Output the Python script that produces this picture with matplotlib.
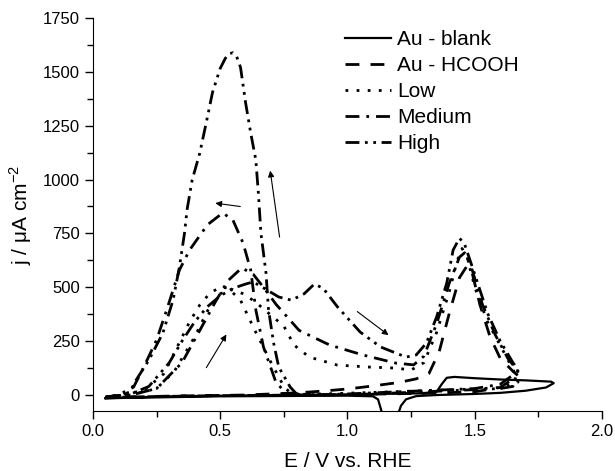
import numpy as np
import matplotlib
matplotlib.use("Agg")
import matplotlib.pyplot as plt
from matplotlib.ticker import MultipleLocator

plt.rcParams['font.family'] = ['Liberation Sans', 'DejaVu Sans']

# Au - blank (solid): forward then reverse
blank_E = [0.05, 0.3, 0.6, 1.0, 1.3, 1.35, 1.37, 1.39, 1.42, 1.5, 1.6, 1.7, 1.8, 1.81,
           1.78, 1.7, 1.6, 1.5, 1.35, 1.27, 1.23, 1.21, 1.19, 1.17, 1.15, 1.135, 1.12, 1.1,
           1.0, 0.5, 0.05]
blank_j = [-15, -6, -2, 3, 8, 15, 50, 80, 84, 78, 72, 68, 62, 55,
           35, 20, 10, 5, 0, -5, -20, -50, -120, -160, -150, -80, -20, -6,
           -3, -6, -15]

# Au - HCOOH (dashed)
hcooh_E = [0.05, 0.3, 0.6, 0.8, 0.9, 1.0, 1.1, 1.2, 1.27, 1.32, 1.36, 1.4, 1.44, 1.47,
           1.49, 1.52, 1.56, 1.6, 1.65, 1.67, 1.6, 1.5, 1.3, 1.0, 0.6, 0.3, 0.05]
hcooh_j = [-12, -5, 0, 10, 18, 28, 42, 58, 75, 100, 200, 380, 545, 600,
           565, 420, 270, 170, 110, 90, 35, 15, 8, 2, -2, -6, -12]

# Low (dotted)
low_E = [0.05, 0.15, 0.25, 0.32, 0.4, 0.45, 0.5, 0.55, 0.6, 0.65, 0.7, 0.75, 0.79, 0.85,
         0.96, 1.08, 1.19, 1.25, 1.3, 1.35, 1.4, 1.43, 1.45, 1.47, 1.5, 1.55, 1.6, 1.65, 1.67,
         1.6, 1.5, 1.3, 1.1, 0.9, 0.78, 0.75, 0.7, 0.63, 0.58, 0.53, 0.5, 0.46, 0.42, 0.38,
         0.33, 0.28, 0.2, 0.1, 0.05]
low_j = [-10, 0, 30, 110, 270, 390, 470, 490, 465, 420, 370, 320, 232, 176,
         139, 130, 125, 116, 150, 290, 480, 620, 680, 640, 500, 340, 230, 120, 60,
         35, 28, 20, 12, 5, 5, 40, 150, 315, 440, 497, 500, 473, 418, 340,
         220, 100, 20, 0, -10]

# Medium (dash-dot)
med_E = [0.05, 0.15, 0.25, 0.35, 0.42, 0.48, 0.53, 0.585, 0.63, 0.67, 0.72, 0.81, 0.93,
         1.06, 1.19, 1.26, 1.3, 1.35, 1.4, 1.44, 1.46, 1.49, 1.53, 1.58, 1.63, 1.67,
         1.6, 1.5, 1.2, 1.0, 0.85, 0.78, 0.76, 0.72, 0.67, 0.64, 0.62, 0.59, 0.55, 0.51,
         0.45, 0.38, 0.34, 0.29, 0.25, 0.2, 0.16, 0.1, 0.05]
med_j = [-10, 0, 30, 150, 300, 430, 530, 590, 560, 500, 420, 300, 232,
         186, 148, 140, 180, 330, 520, 640, 660, 580, 420, 280, 170, 110,
         50, 30, 15, 5, 0, 3, 10, 56, 223, 395, 580, 705, 812, 845,
         790, 673, 580, 395, 255, 130, 37, 0, -10]

# High (dash-dot-dot)
high_E = [0.05, 0.15, 0.22, 0.3, 0.35, 0.4, 0.45, 0.5, 0.55, 0.6, 0.63, 0.68, 0.73, 0.78,
          0.83, 0.87, 0.905, 0.96, 1.05, 1.13, 1.23, 1.27, 1.31, 1.35, 1.39, 1.415, 1.44,
          1.46, 1.5, 1.55, 1.6, 1.65, 1.67, 1.65, 1.6, 1.5, 1.3, 1.1, 0.9, 0.8, 0.775,
          0.73, 0.71, 0.69, 0.68, 0.66, 0.65, 0.64, 0.62, 0.6, 0.58, 0.565, 0.55, 0.535,
          0.52, 0.5, 0.47, 0.45, 0.42, 0.39, 0.37, 0.36, 0.34, 0.315, 0.275, 0.22, 0.17,
          0.145, 0.1, 0.05]
high_j = [-10, 5, 40, 150, 250, 340, 410, 460, 495, 515, 525, 490, 455, 440,
          470, 515, 495, 410, 292, 223, 176, 186, 241, 362, 520, 673, 728,
          700, 560, 380, 250, 150, 120, 40, 30, 25, 15, 5, 0, 5, 37,
          130, 241, 395, 566, 752, 938, 1091, 1216, 1355, 1520, 1570, 1588, 1584,
          1562, 1515, 1405, 1290, 1123, 998, 860, 752, 594, 441, 288, 162, 70,
          14, -5, -10]

# arrows: (tail E, tail j, head E, head j)
arrows = [(0.59, 873, 0.47, 892),
          (0.735, 720, 0.695, 1054),
          (0.44, 116, 0.53, 292),
          (1.03, 395, 1.17, 270)]

fig = plt.figure(figsize=(6.15, 4.71), dpi=100)
ax = fig.add_axes([0.151, 0.127, 0.828, 0.835])

ax.plot(blank_E, blank_j, color='k', lw=1.6, ls='-', label='Au - blank')
ax.plot(hcooh_E, hcooh_j, color='k', lw=2.0, ls=(0, (5, 4)), label='Au - HCOOH')
ax.plot(low_E, low_j, color='k', lw=2.0, ls=(0, (1, 3)), label='Low')
ax.plot(med_E, med_j, color='k', lw=2.0, ls=(0, (5, 2.5, 1, 2.5)), label='Medium')
ax.plot(high_E, high_j, color='k', lw=2.0, ls=(0, (5, 2, 1, 2, 1, 2)), label='High')

for x0, y0, x1, y1 in arrows:
    ax.annotate('', xy=(x1, y1), xytext=(x0, y0),
                arrowprops=dict(arrowstyle='-|>', color='k', lw=0.8, mutation_scale=9))

ax.set_xlim(0, 2.0)
ax.set_ylim(-75, 1750)
ax.xaxis.set_major_locator(MultipleLocator(0.5))
ax.xaxis.set_minor_locator(MultipleLocator(0.25))
ax.yaxis.set_major_locator(MultipleLocator(250))
ax.yaxis.set_minor_locator(MultipleLocator(125))
ax.xaxis.set_major_formatter(plt.FuncFormatter(lambda v, p: f"{v:.1f}"))
for s in ['top', 'right']:
    ax.spines[s].set_visible(False)
ax.tick_params(which='major', length=6, width=1, labelsize=12, direction='out')
ax.tick_params(which='minor', length=4, width=1, direction='out')

ax.set_xlabel('E / V vs. RHE', fontsize=15, labelpad=9)
ax.set_ylabel(r'j / $\mathregular{\mu}$A cm$^{\mathregular{-2}}$', fontsize=15, labelpad=6)

leg = ax.legend(loc='upper left', bbox_to_anchor=(0.47, 1.0), frameon=False, fontsize=15,
                handlelength=2.2, handletextpad=0.3, labelspacing=0.33, borderaxespad=0.2)

fig.savefig('out.png', dpi=100)
